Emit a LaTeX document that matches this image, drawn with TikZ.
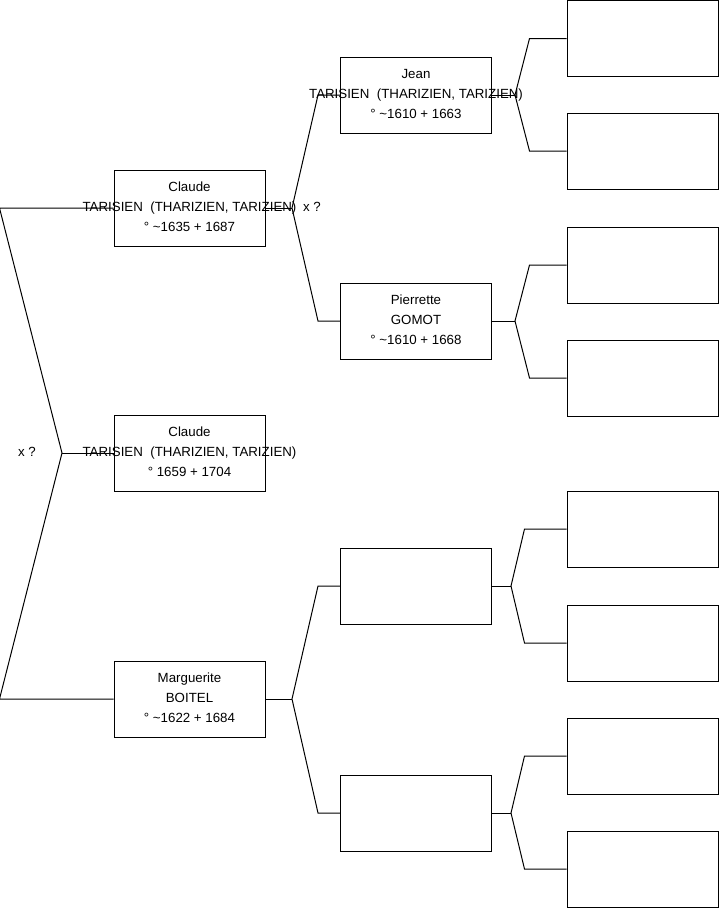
\documentclass[tikz,border=0pt]{standalone}
\usepackage{fontspec}
\setmainfont{Liberation Sans}

\begin{document}
\begin{tikzpicture}[x=1pt,y=-1pt,
        pbox/.style={draw,line width=1pt,minimum width=151pt,minimum height=76pt,inner sep=0pt},
        ptext/.style={align=center,font=\fontsize{13.3}{20}\selectfont,inner sep=0pt},
        link/.style={line width=1pt}]
            \useasboundingbox (0,0) rectangle (719,908);

            % first column
            \node[pbox] (claude) at (189.5,208) {};
            \node[pbox] (claudeb) at (189.5,453) {};
            \node[pbox] (marg) at (189.5,699) {};
            % second column
            \node[pbox] (jean) at (416,95) {};
            \node[pbox] (pierrette) at (416,321) {};
            \node[pbox] (ma) at (416,586) {};
            \node[pbox] (mb) at (416,813) {};
            % third column, left empty
            \foreach \i/\y in {1/38.5,2/151,3/265,4/378,5/529,6/643,7/756,8/869}
                {\node[pbox] (g\i) at (642.5,\y) {};}

            \coordinate (root) at (62,453);
            \coordinate (fa) at (292,208);
            \coordinate (fb) at (292,699);

            \draw[link] (claude.west) -- ([xshift=-114pt]claude.west) -- (root)
                -- ([xshift=-114pt]marg.west) -- (marg.west);
            \draw[link] (root) -- (claudeb.west);
            \draw[link] (claude.east) -- (fa);
            \draw[link] (jean.west) -- ([xshift=-22pt]jean.west) -- (fa)
                -- ([xshift=-22pt]pierrette.west) -- (pierrette.west);
            \draw[link] (marg.east) -- (fb);
            \draw[link] (ma.west) -- ([xshift=-22pt]ma.west) -- (fb)
                -- ([xshift=-22pt]mb.west) -- (mb.west);

            \foreach \p/\a/\b/\d/\e in {jean/g1/g2/23/37, pierrette/g3/g4/23/37, ma/g5/g6/19/42, mb/g7/g8/19/42}
                {
                    \draw[link] (\p.east) -- ([xshift=\d pt]\p.east);
                    \draw[link] (\a.west) -- ([xshift=-\e pt]\a.west) -- ([xshift=\d pt]\p.east)
                        -- ([xshift=-\e pt]\b.west) -- (\b.west);
                }

            % names
            \node[ptext] (claude-t) at (189.5,207) {Claude\\TARISIEN\ \ (THARIZIEN, TARIZIEN)\\° \textasciitilde1635 + 1687};
            \node[ptext] (claudeb-t) at (189.5,452) {Claude\\TARISIEN\ \ (THARIZIEN, TARIZIEN)\\° 1659 + 1704};
            \node[ptext] (marg-t) at (189.5,698) {Marguerite\\BOITEL\\° \textasciitilde1622 + 1684};
            \node[ptext] (jean-t) at (416,94) {Jean\\TARISIEN\ \ (THARIZIEN, TARIZIEN)\\° \textasciitilde1610 + 1663};
            \node[ptext] (pierrette-t) at (416,320) {Pierrette\\GOMOT\\° \textasciitilde1610 + 1668};
            \node[ptext] (xa) at (312,207) {x ?};
            \node[ptext] (xb) at (27,452) {x ?};
        \end{tikzpicture}
\end{document}
